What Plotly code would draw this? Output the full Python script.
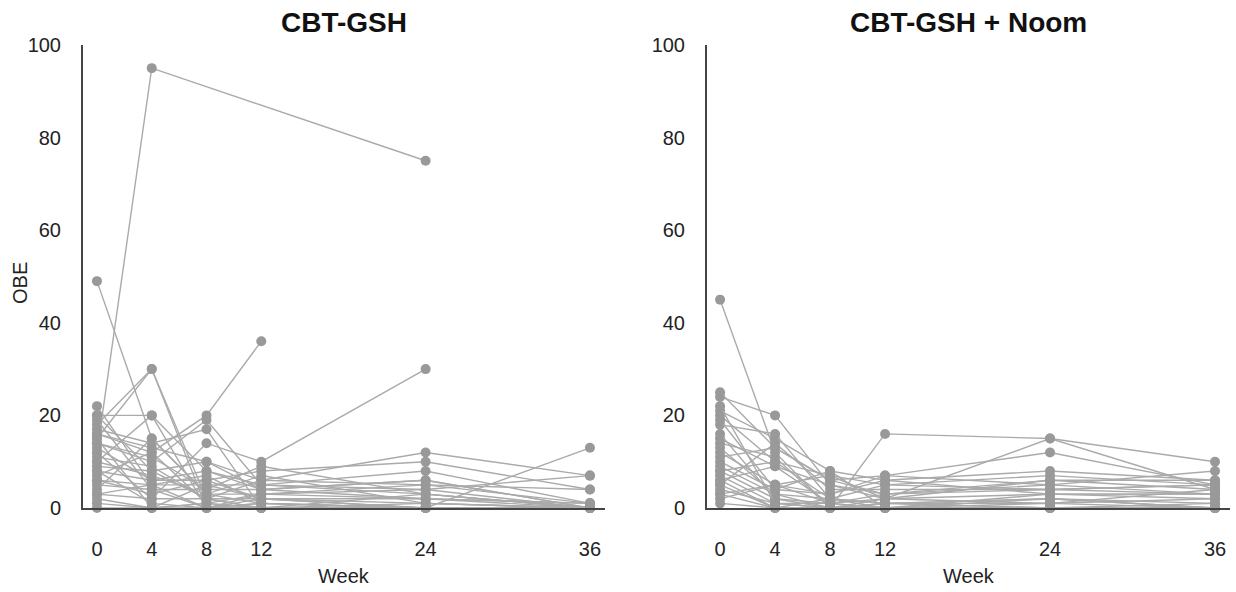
import plotly.graph_objects as go

weeks = [0, 4, 8, 12, 24, 36]
week_labels = ["0", "4", "8", "12", "24", "36"]
y_ticks = [0, 20, 40, 60, 80, 100]

# OBE per participant, CBT-GSH (None = missing visit)
cbt_gsh = [
    [12, 95, None, None, 75, None],
    [49, 15, 3, 1, 0, 0],
    [22, 5, 0, 2, 1, 0],
    [20, 20, 8, 4, 2, 0],
    [18, 30, 0, 3, 5, 1],
    [15, 30, 2, 0, 0, 0],
    [16, 12, 20, 36, None, None],
    [14, 10, 19, 5, 3, 0],
    [17, 14, 17, 0, 0, 0],
    [12, 2, 14, 10, 30, None],
    [10, 20, 0, 1, 0, None],
    [9, 8, 10, 6, 12, 7],
    [8, 6, 6, 8, 10, 4],
    [6, 5, 5, 5, 8, 1],
    [5, 4, 4, 4, 6, 0],
    [4, 15, 3, 3, 4, 0],
    [3, 2, 2, 2, 0, 13],
    [2, 0, 1, 0, 3, 0],
    [1, 0, 0, 1, 0, 0],
    [0, 0, 1, 0, 0, 0],
    [13, 6, 8, 5, 4, 7],
    [11, 9, 2, 6, 5, 4],
    [7, 12, 1, 3, 2, 1],
    [19, 4, 0, 0, 1, 0],
    [15, 0, 5, 2, 0, 0],
    [16, 13, 10, 4, 6, 0],
    [10, 7, 3, 7, 1, 0],
    [8, 1, 0, 0, 0, 0],
    [6, 3, 6, 2, 2, 1],
    [14, 11, 4, 9, 3, 0],
    [3, 5, 7, 1, 0, None],
    [20, 8, 2, 0, 0, 0],
]

# OBE per participant, CBT-GSH + Noom
cbt_gsh_noom = [
    [45, 12, 0, 1, 0, 0],
    [24, 20, 5, 2, 3, 2],
    [25, 13, 6, 3, 6, 4],
    [21, 15, 8, 0, 0, 0],
    [20, 10, 7, 5, 4, 3],
    [18, 16, 2, 1, 2, 1],
    [15, 9, 1, 0, 0, 0],
    [14, 11, 0, 16, 15, 10],
    [12, 5, 3, 7, 12, 5],
    [10, 4, 8, 6, 8, 6],
    [9, 3, 2, 5, 7, 5],
    [8, 2, 0, 2, 15, 4],
    [7, 1, 1, 3, 5, 8],
    [6, 0, 0, 0, 3, 3],
    [5, 14, 4, 4, 4, 5],
    [4, 1, 0, 1, 1, 2],
    [3, 0, 2, 0, 0, 1],
    [2, 5, 1, 2, 6, 6],
    [1, 0, 0, 0, 2, 0],
    [11, 13, 6, 7, 5, 3],
    [13, 3, 0, 1, 0, 0],
    [16, 2, 1, 0, 1, 0],
    [6, 9, 5, 3, 4, 5],
    [19, 4, 3, 6, 3, 3],
    [8, 10, 2, 1, 2, 0],
    [5, 0, 0, 0, 0, 0],
    [3, 5, 7, 2, 1, 4],
    [22, 1, 0, 0, 0, 0],
]

panel_titles = ["CBT-GSH", "CBT-GSH + Noom"]
x_title = "Week"
y_title = "OBE"

LINE = "rgb(170,170,170)"
DOT = "rgb(153,153,153)"
FONT = "Liberation Sans, Arial, sans-serif"
TXT = "#222"

fig = go.Figure()
for vals in cbt_gsh:
    fig.add_trace(go.Scatter(x=weeks, y=vals, mode="lines+markers", connectgaps=True,
                             line=dict(color=LINE, width=1.4),
                             marker=dict(color=DOT, size=10), cliponaxis=False,
                             showlegend=False, xaxis="x", yaxis="y"))
for vals in cbt_gsh_noom:
    fig.add_trace(go.Scatter(x=weeks, y=vals, mode="lines+markers", connectgaps=True,
                             line=dict(color=LINE, width=1.4),
                             marker=dict(color=DOT, size=10), cliponaxis=False,
                             showlegend=False, xaxis="x2", yaxis="y2"))

W, H = 1236, 592
yd = [1 - 508 / H, 1 - 45 / H]
xcommon = dict(tickmode="array", tickvals=weeks, ticktext=week_labels, showgrid=False,
               zeroline=False, showline=True, linecolor="#444", linewidth=2, ticks="",
               ticklabelstandoff=22, tickfont=dict(size=20, color=TXT), automargin=False)
ycommon = dict(range=[0, 100], tickvals=y_ticks, showgrid=False, zeroline=False,
               showline=True, linecolor="#444", linewidth=2, ticks="",
               ticklabelstandoff=16, tickfont=dict(size=20, color=TXT), automargin=False)

L1, R1, L2, R2 = 83, 605, 707, 1230

def ann(text, xpx, ypx, size, angle=0, bold=False, color=TXT):
    return dict(text=("<b>%s</b>" % text) if bold else text, x=xpx / W, y=1 - ypx / H,
                xref="paper", yref="paper", showarrow=False, textangle=angle,
                font=dict(size=size, color=color), xanchor="center", yanchor="middle")

fig.update_layout(
    width=W, height=H, margin=dict(l=0, r=0, t=0, b=0, autoexpand=False),
    plot_bgcolor="white", paper_bgcolor="white",
    font=dict(family=FONT, color=TXT),
    xaxis=dict(domain=[L1 / W, R1 / W], range=[-1.02, 37.1], anchor="y", **xcommon),
    yaxis=dict(domain=yd, anchor="x", **ycommon),
    xaxis2=dict(domain=[L2 / W, R2 / W], range=[-0.95, 37.09], anchor="y2", **xcommon),
    yaxis2=dict(domain=yd, anchor="x2", **ycommon),
    annotations=[
        ann(panel_titles[0], (L1 + R1) / 2, 22, 28, bold=True, color="#111"),
        ann(panel_titles[1], (L2 + R2) / 2, 22, 28, bold=True, color="#111"),
        ann(x_title, 344, 576, 20),
        ann(x_title, 969, 576, 20),
        ann(y_title, 20, 283, 20, angle=-90),
    ],
)

fig.write_html("out.html")
